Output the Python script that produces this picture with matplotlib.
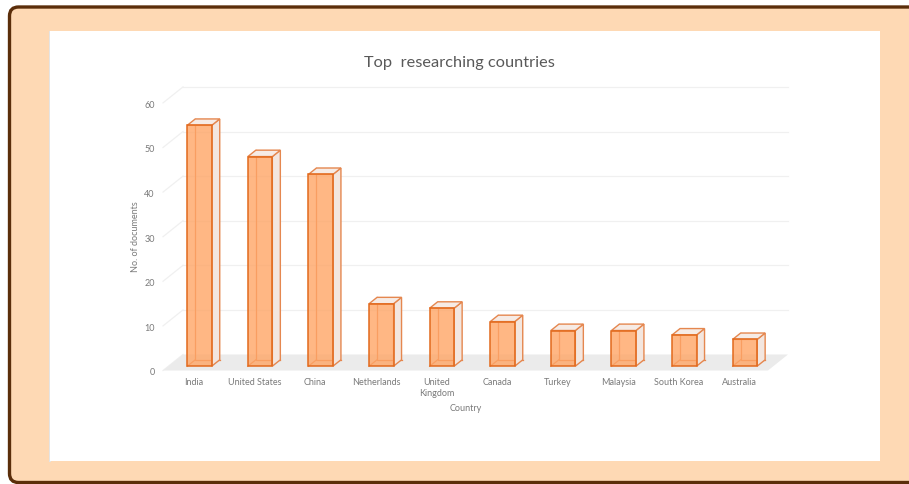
import matplotlib
matplotlib.use("Agg")
import matplotlib.pyplot as plt
from matplotlib.patches import Polygon, FancyBboxPatch, Rectangle

countries = ["India", "United States", "China", "Netherlands", "United\nKingdom",
             "Canada", "Turkey", "Malaysia", "South Korea", "Australia"]
documents = [54, 47, 43, 14, 13, 10, 8, 8, 7, 6]
y_ticks = [0, 10, 20, 30, 40, 50, 60]

title = "Top  researching countries"
x_title = "Country"
y_title = "No. of documents"

FONT = "Lato"
W, H = 909, 485
fig = plt.figure(figsize=(W / 100, H / 100), dpi=100)

# frame: brown rounded border, peach fill, white panel
bg = fig.add_axes([0, 0, 1, 1])
bg.set_xlim(0, W)
bg.set_ylim(H, 0)
bg.axis("off")
bg.add_patch(FancyBboxPatch((9.5, 8), 915, 475.5, boxstyle="round,pad=0,rounding_size=9",
                            facecolor="#FED9B4", edgecolor="#5B2E0A", linewidth=2.4))
bg.add_patch(Rectangle((48.5, 31.5), 2, 431, facecolor="#E4E4E4", edgecolor="none"))
bg.add_patch(Rectangle((50, 32), 830, 430, facecolor="white", edgecolor="none"))

# chart axes: x = category index, y = value on the front plane
px_cat, px_val = 60.6, 4.46
x0_px, y0_px = 194.1, 371.5
left_px, right_px, top_px, bottom_px = 150, 800, 80, 385
ax = fig.add_axes([left_px / W, 1 - bottom_px / H, (right_px - left_px) / W,
                   (bottom_px - top_px) / H])
ax.set_xlim((left_px - x0_px) / px_cat, (right_px - x0_px) / px_cat)
ax.set_ylim((y0_px - bottom_px) / px_val, (y0_px - top_px) / px_val)
ax.axis("off")

# depth direction (z from 0 = front to 1 = back wall) in data units
DX = 20 / px_cat
DY = 16 / px_val


def P(x, v, z):
    return (x + DX * z, v + DY * z)


n = len(countries)
x_lo, x_hi = -0.513, n - 0.53

# floor
ax.add_patch(Polygon([P(x_lo, 0, 0), P(x_hi, 0, 0), P(x_hi, 0, 1), P(x_lo, 0, 1)],
                     closed=True, facecolor="#EBEBEB", edgecolor="none", zorder=1))
# back wall and side wall gridlines
grid_c = "#F0F0F0"
for t in y_ticks[1:]:
    a, b = P(x_lo, t, 1), P(x_hi, t, 1)
    ax.plot([a[0], b[0]], [a[1], b[1]], color=grid_c, lw=0.9, zorder=0.5)
for t in y_ticks:
    a, b = P(x_lo, t, 0), P(x_lo, t, 1)
    ax.plot([a[0], b[0]], [a[1], b[1]], color=grid_c, lw=0.9, zorder=0.5)

# 3D bars
bw = 0.404
zf, zb = 0.27, 0.67
edge_front = "#E2691C"
edge_back = "#E5874F"
for i, h in enumerate(documents):
    xl, xr = i - bw / 2, i + bw / 2
    # hidden back edges
    bl0, br0, bl1 = P(xl, 0, zb), P(xr, 0, zb), P(xl, h, zb)
    ax.plot([bl1[0], bl0[0], br0[0]], [bl1[1], bl0[1], br0[1]], color=edge_back,
            lw=0.9, zorder=2)
    fl0 = P(xl, 0, zf)
    ax.plot([fl0[0], bl0[0]], [fl0[1], bl0[1]], color=edge_back, lw=0.9, zorder=2)
    # right side face
    side = [P(xr, 0, zf), P(xr, 0, zb), P(xr, h, zb), P(xr, h, zf)]
    ax.add_patch(Polygon(side, closed=True, facecolor="#F3E6DF", edgecolor=edge_back,
                         lw=1.0, zorder=3))
    # top face
    top = [P(xl, h, zf), P(xr, h, zf), P(xr, h, zb), P(xl, h, zb)]
    ax.add_patch(Polygon(top, closed=True, facecolor="#F6EBE5", edgecolor=edge_back,
                         lw=1.0, zorder=3))
    # front face
    front = [P(xl, 0, zf), P(xr, 0, zf), P(xr, h, zf), P(xl, h, zf)]
    ax.add_patch(Polygon(front, closed=True, facecolor="#FFA566", alpha=0.8,
                         edgecolor="none", zorder=4))
    ax.add_patch(Polygon(front, closed=True, facecolor="none", edgecolor=edge_front,
                         lw=1.1, zorder=5))

# value axis labels
lab_c = "#7A7A7A"
for t in y_ticks:
    ax.text(x_lo - 0.135, t - 0.3, str(t), ha="right", va="center", fontsize=6.5,
            color=lab_c, family=FONT)

# category labels
for i, c in enumerate(countries):
    ax.text(i, -1.5, c, ha="center", va="top", fontsize=6.5, color=lab_c,
            family=FONT, linespacing=1.25)

fig.text(459 / W, 1 - 63 / H, title, ha="center", va="center", fontsize=11.8,
         color="#595959", family=FONT)
fig.text(466 / W, 1 - 409 / H, x_title, ha="center", va="center", fontsize=6.5,
         color=lab_c, family=FONT)
fig.text(135 / W, 1 - 237 / H, y_title, ha="center", va="center", rotation=90,
         fontsize=6.5, color=lab_c, family=FONT)

fig.savefig("out.png", dpi=100)
